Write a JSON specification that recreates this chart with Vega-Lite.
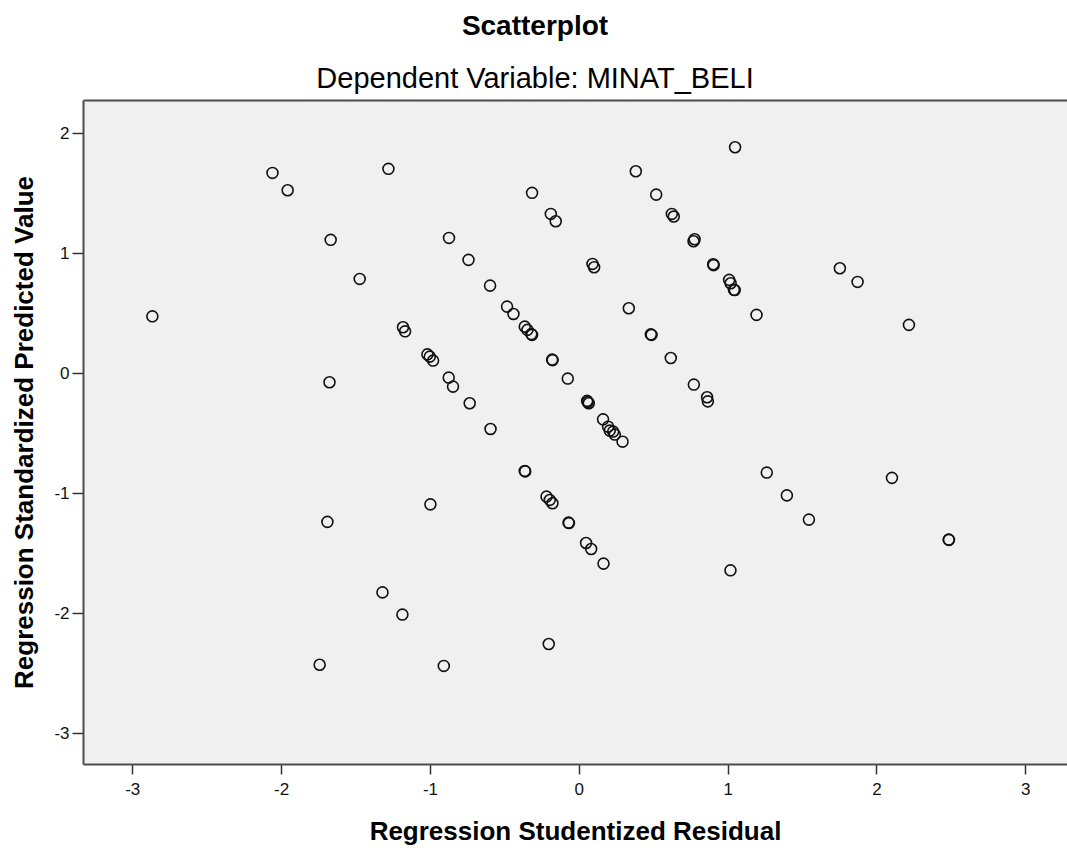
{
  "$schema": "https://vega.github.io/schema/vega-lite/v6.json",
  "width": 984,
  "height": 664,
  "autosize": {"type": "none"},
  "padding": {"left": 83, "top": 100, "right": 0, "bottom": 86},
  "background": "white",
  "config": {
    "font": "Liberation Sans",
    "view": {"fill": "#f0f0f0", "stroke": null}
  },
  "title": {
    "text": "Scatterplot",
    "subtitle": "Dependent Variable: MINAT_BELI",
    "anchor": "middle",
    "dx": -40,
    "offset": 6,
    "font": "Liberation Sans",
    "fontSize": 28,
    "fontWeight": "bold",
    "color": "#000",
    "subtitleFont": "Liberation Sans",
    "subtitleFontSize": 29,
    "subtitleFontWeight": "normal",
    "subtitleColor": "#000",
    "subtitlePadding": 24
  },
  "data": {
    "values": [
      {"residual": -2.865, "predicted": 0.475},
      {"residual": -2.058, "predicted": 1.671},
      {"residual": -1.956, "predicted": 1.526},
      {"residual": -1.279, "predicted": 1.705},
      {"residual": -1.667, "predicted": 1.113},
      {"residual": -1.472, "predicted": 0.787},
      {"residual": -1.181, "predicted": 0.384},
      {"residual": -1.167, "predicted": 0.350},
      {"residual": -1.675, "predicted": -0.075},
      {"residual": 1.050, "predicted": 1.885},
      {"residual": 0.383, "predicted": 1.685},
      {"residual": 0.520, "predicted": 1.490},
      {"residual": 0.625, "predicted": 1.329},
      {"residual": 0.638, "predicted": 1.307},
      {"residual": 0.778, "predicted": 1.118},
      {"residual": 0.771, "predicted": 1.101},
      {"residual": 0.903, "predicted": 0.909},
      {"residual": 0.906, "predicted": 0.902},
      {"residual": 1.010, "predicted": 0.779},
      {"residual": 1.020, "predicted": 0.751},
      {"residual": 1.042, "predicted": 0.696},
      {"residual": 1.048, "predicted": 0.694},
      {"residual": -0.314, "predicted": 1.505},
      {"residual": -0.188, "predicted": 1.329},
      {"residual": -0.155, "predicted": 1.268},
      {"residual": -0.872, "predicted": 1.129},
      {"residual": -0.741, "predicted": 0.946},
      {"residual": -0.596, "predicted": 0.731},
      {"residual": -0.482, "predicted": 0.556},
      {"residual": -0.439, "predicted": 0.495},
      {"residual": -0.363, "predicted": 0.389},
      {"residual": -0.345, "predicted": 0.362},
      {"residual": -0.314, "predicted": 0.320},
      {"residual": -0.319, "predicted": 0.327},
      {"residual": 0.092, "predicted": 0.912},
      {"residual": 0.103, "predicted": 0.884},
      {"residual": 0.336, "predicted": 0.542},
      {"residual": 0.484, "predicted": 0.325},
      {"residual": 0.489, "predicted": 0.320},
      {"residual": 0.618, "predicted": 0.128},
      {"residual": 0.773, "predicted": -0.094},
      {"residual": 0.862, "predicted": -0.200},
      {"residual": 0.867, "predicted": -0.234},
      {"residual": -1.017, "predicted": 0.158},
      {"residual": -0.979, "predicted": 0.106},
      {"residual": -1.001, "predicted": 0.139},
      {"residual": -0.874, "predicted": -0.036},
      {"residual": -0.845, "predicted": -0.111},
      {"residual": -0.733, "predicted": -0.250},
      {"residual": -0.593, "predicted": -0.464},
      {"residual": -0.179, "predicted": 0.114},
      {"residual": -0.176, "predicted": 0.110},
      {"residual": -0.074, "predicted": -0.044},
      {"residual": 0.056, "predicted": -0.230},
      {"residual": 0.067, "predicted": -0.250},
      {"residual": 0.060, "predicted": -0.240},
      {"residual": 0.163, "predicted": -0.384},
      {"residual": 0.197, "predicted": -0.445},
      {"residual": 0.208, "predicted": -0.478},
      {"residual": 0.231, "predicted": -0.486},
      {"residual": 0.242, "predicted": -0.511},
      {"residual": 0.294, "predicted": -0.570},
      {"residual": -0.363, "predicted": -0.814},
      {"residual": -0.360, "predicted": -0.818},
      {"residual": -0.217, "predicted": -1.028},
      {"residual": -0.195, "predicted": -1.056},
      {"residual": -0.177, "predicted": -1.084},
      {"residual": -0.069, "predicted": -1.245},
      {"residual": -0.066, "predicted": -1.249},
      {"residual": 0.049, "predicted": -1.415},
      {"residual": 0.083, "predicted": -1.465},
      {"residual": 0.166, "predicted": -1.587},
      {"residual": -0.997, "predicted": -1.093},
      {"residual": -0.202, "predicted": -2.257},
      {"residual": -0.907, "predicted": -2.440},
      {"residual": 1.019, "predicted": -1.643},
      {"residual": -1.689, "predicted": -1.239},
      {"residual": -1.319, "predicted": -1.827},
      {"residual": -1.185, "predicted": -2.012},
      {"residual": -1.741, "predicted": -2.430},
      {"residual": 1.754, "predicted": 0.876},
      {"residual": 1.873, "predicted": 0.762},
      {"residual": 1.194, "predicted": 0.487},
      {"residual": 2.218, "predicted": 0.404},
      {"residual": 1.263, "predicted": -0.828},
      {"residual": 1.398, "predicted": -1.018},
      {"residual": 1.546, "predicted": -1.220},
      {"residual": 2.104, "predicted": -0.872},
      {"residual": 2.485, "predicted": -1.387},
      {"residual": 2.487, "predicted": -1.389}
    ]
  },
  "layer": [
    {
      "mark": {"type": "point", "shape": "circle", "filled": false, "size": 120, "stroke": "#111", "strokeWidth": 1.6, "opacity": 1},
      "encoding": {
        "x": {
          "field": "residual", "type": "quantitative",
          "scale": {"domain": [-3.331, 3.28], "nice": false, "zero": false},
          "axis": {
            "orient": "bottom",
            "title": "Regression Studentized Residual",
            "values": [-3, -2, -1, 0, 1, 2, 3],
            "labelExpr": "'' + datum.value",
            "grid": false,
            "domain": true, "domainColor": "#4d4d4d", "domainWidth": 2,
            "ticks": true, "tickSize": 10, "tickColor": "#333", "tickWidth": 1.5,
            "labelFont": "Liberation Sans", "labelFontSize": 17, "labelColor": "#111", "labelPadding": 7,
            "titleFont": "Liberation Sans", "titleFontSize": 26, "titleFontWeight": "bold", "titleColor": "#000", "titlePadding": 21
          }
        },
        "y": {
          "field": "predicted", "type": "quantitative",
          "scale": {"domain": [-3.258, 2.279], "nice": false, "zero": false},
          "axis": {
            "orient": "left",
            "title": "Regression Standardized Predicted Value",
            "values": [-3, -2, -1, 0, 1, 2],
            "labelExpr": "'' + datum.value",
            "grid": false,
            "domain": true, "domainColor": "#4d4d4d", "domainWidth": 2,
            "ticks": true, "tickSize": 11, "tickColor": "#333", "tickWidth": 1.5,
            "labelFont": "Liberation Sans", "labelFontSize": 17, "labelColor": "#111", "labelPadding": 3,
            "titleFont": "Liberation Sans", "titleFontSize": 26, "titleFontWeight": "bold", "titleColor": "#000", "titlePadding": 16
          }
        }
      }
    },
    {
      "mark": {"type": "point", "opacity": 0},
      "encoding": {
        "x": {
          "field": "residual", "type": "quantitative",
          "axis": {
            "orient": "top", "title": null, "labels": false, "ticks": false, "grid": false,
            "domain": true, "domainColor": "#4d4d4d", "domainWidth": 2
          }
        }
      }
    }
  ],
  "resolve": {"axis": {"x": "independent"}}
}
